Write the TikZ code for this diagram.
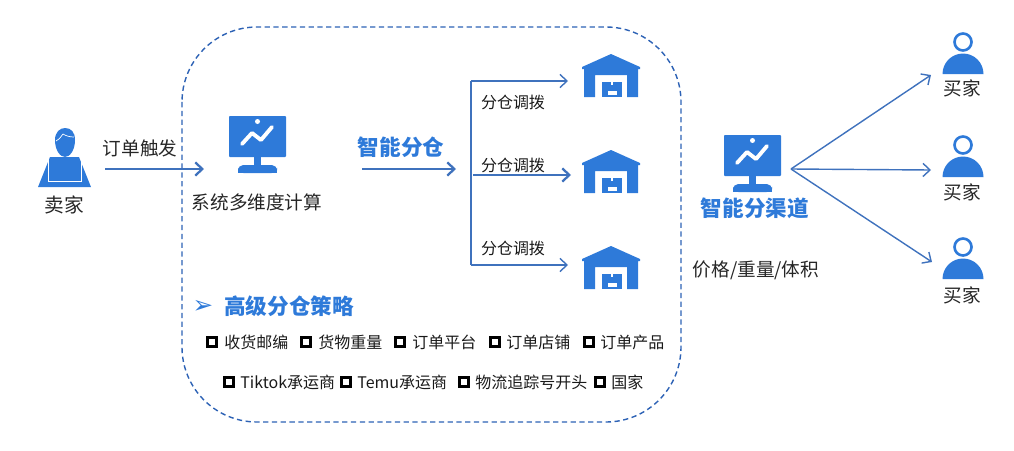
\documentclass[tikz,border=0pt]{standalone}
\usepackage{fontspec}
\setmainfont{Noto Sans CJK SC}
\usetikzlibrary{arrows.meta}
\newfontfamily\symbolfont{DejaVu Sans}
\definecolor{iconblue}{HTML}{2E7AD9}
\definecolor{lineblue}{HTML}{3F72BD}
\definecolor{framblue}{HTML}{2D62B5}
\tikzset{
    flow/.style={lineblue,line width=0.8pt,-{Straight Barb[length=4pt,width=7.5pt]}},
    label/.style={inner sep=0pt,text=black!85,font=\fontsize{10.6}{12}\selectfont},
    small/.style={inner sep=0pt,text=black!90,font=\fontsize{9.1}{11}\selectfont},
    head/.style={inner sep=0pt,text=iconblue,font=\fontsize{12.3}{14}\selectfont\bfseries},
    tick/.style={draw=black,line width=1.5pt,inner sep=0pt,minimum size=5pt},
    item/.style={small,anchor=west},
    pics/screen/.style={code={
        \fill[iconblue,rounded corners=0.5pt] (0,0) rectangle (57,41);
        \fill[iconblue] (25,40) rectangle (32,50);
        \fill[iconblue,rounded corners=3pt] (9,57) -- (9,49) -- (48,49) -- (48,57) -- cycle;
        \fill[iconblue] (9,53) rectangle (48,57);
        \draw[white,line width=2.2pt,line cap=round,line join=round] (13,28) -- (23,17) -- (32,24) -- (43,11);
        \fill[white] (28.5,5.5) circle (2.5);
    }},
    pics/store/.style={code={
        \fill[iconblue] (0,0) -- (29,13) -- (29,15) -- (27,15) -- (27,43) -- (16,43) -- (16,21)
            -- (-16,21) -- (-16,43) -- (-27,43) -- (-27,15) -- (-29,15) -- (-29,13) -- cycle;
        \fill[iconblue] (-9,28) rectangle (11,43);
        \fill[white] (0,28) rectangle (2,31);
        \fill[white] (-3,37) rectangle (6,41);
    }},
    pics/buyer/.style={code={
        \draw[iconblue,line width=1.5pt] (0,0) circle (8.5);
        \fill[iconblue] (-20.5,32) arc[start angle=180,end angle=360,radius=20.5] -- cycle;
    }}
}
\begin{document}
\begin{tikzpicture}[x=0.02cm,y=-0.02cm]
    \useasboundingbox (0,0) rectangle (1014,450);
    \draw[framblue,line width=0.8pt,dash pattern=on 3pt off 2pt,rounded corners=1.5cm] (182,27) rectangle (681,422);

    % seller
    \fill[iconblue] (38,187) -- (50,157) -- (79,157) -- (91,187) -- cycle;
    \draw[white,line width=0.4pt] (48,181) -- (48,157) (81,157) -- (81,181) -- (48,181);
    \fill[iconblue] (55,140) .. controls (55,132) and (60,128) .. (65,128) .. controls (71,128) and (75,132) .. (75,140)
        .. controls (75,150) and (70,157) .. (65,157) .. controls (60,157) and (55,150) .. (55,140) -- cycle;
    \draw[white,line width=0.4pt] (56,141) .. controls (60,139) and (62,135) .. (63,134) .. controls (66,136) and (70,137) .. (74,137);
    \node[label,font=\fontsize{11.2}{13}\selectfont] (seller) at (64,205) {卖家};

    % first step
    \coordinate (sellerout) at (105,169);
    \coordinate (calcin) at (204,169);
    \draw[flow,line width=1.3pt] (sellerout) -- (calcin);
    \node[label] (trigger) at (140,148) {订单触发};
    \pic at (229,116) {screen};
    \node[label] (calc) at (257,202) {系统多维度计算};

    % split
    \node[head] (split) at (401,147) {智能分仓};
    \coordinate (splitout) at (362,169);
    \coordinate (splitin) at (456,169);
    \draw[flow,line width=1.3pt] (splitout) -- (splitin);

    \coordinate (top) at (471,81);
    \coordinate (low) at (471,265);
    \coordinate (mid) at (473,175);
    \coordinate (storea) at (568,81);
    \coordinate (storeb) at (571,175);
    \coordinate (storec) at (568,265);
    \draw[lineblue,line width=0.8pt] (top) -- (low);
    \draw[flow] (top) -- (storea);
    \draw[flow,line width=1.3pt] (mid) -- (storeb);
    \draw[flow] (low) -- (storec);
    \node[small] (movea) at (513,102) {分仓调拨};
    \node[small] (moveb) at (513,165) {分仓调拨};
    \node[small] (movec) at (513,248) {分仓调拨};
    \pic at (611,54) {store};
    \pic at (611,150) {store};
    \pic at (611,246) {store};

    % strategy
    \node[inner sep=0pt,text=iconblue,font=\symbolfont\fontsize{14}{16}\selectfont] (bullet) at (203,307) {➢};
    \node[head] (strategy) at (289,306) {高级分仓策略};

    \node[tick] (ta) at (212,342) {};
    \node[item] (ia) at (224,342) {收货邮编};
    \node[tick] (tb) at (306,342) {};
    \node[item] (ib) at (318,342) {货物重量};
    \node[tick] (tc) at (400,342) {};
    \node[item] (ic) at (412,342) {订单平台};
    \node[tick] (td) at (495,342) {};
    \node[item] (id) at (506,342) {订单店铺};
    \node[tick] (te) at (589,342) {};
    \node[item] (ie) at (600,342) {订单产品};

    \node[tick] (tf) at (229,382) {};
    \node[item] (if) at (240,382) {Tiktok承运商};
    \node[tick] (tg) at (346,382) {};
    \node[item] (ig) at (357,382) {Temu承运商};
    \node[tick] (th) at (464,382) {};
    \node[item] (ih) at (475,382) {物流追踪号开头};
    \node[tick] (ti) at (600,382) {};
    \node[item] (ii) at (611,382) {国家};

    % channel
    \pic at (724,135) {screen};
    \node[head] (channel) at (755,208) {智能分渠道};
    \node[label] (metric) at (756,270) {价格/重量/体积};

    \coordinate (hub) at (791,169);
    \coordinate (buyera) at (931,75);
    \coordinate (buyerb) at (931,170);
    \coordinate (buyerc) at (932,262);
    \draw[flow] (hub) -- (buyera);
    \draw[flow] (hub) -- (buyerb);
    \draw[flow] (hub) -- (buyerc);

    % buyers
    \pic at (963,42) {buyer};
    \pic at (963,145) {buyer};
    \pic at (963,247) {buyer};
    \node[label] (ba) at (962,88) {买家};
    \node[label] (bb) at (962,192) {买家};
    \node[label] (bc) at (962,295) {买家};
\end{tikzpicture}
\end{document}
